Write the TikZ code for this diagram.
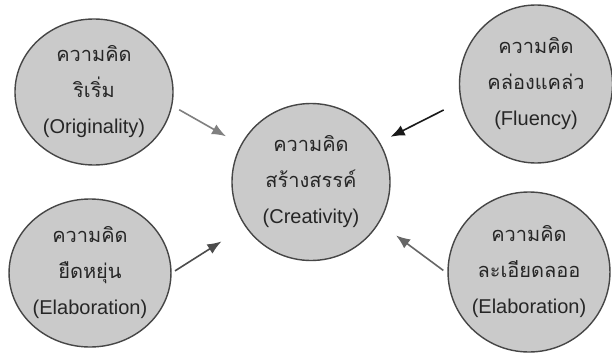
\documentclass[tikz,border=0pt]{standalone}
\usepackage{fontspec}
\setmainfont{Liberation Sans}
\newfontfamily\thaifont[Script=Thai]{Loma}
\usetikzlibrary{shapes.geometric,arrows.meta}

\definecolor{ideafill}{RGB}{202,202,202}
\definecolor{ideaedge}{RGB}{70,70,70}
\definecolor{ideatext}{RGB}{38,38,38}

\tikzset{
  idea/.style={ellipse, draw=ideaedge, fill=ideafill, line width=1.4pt,
    inner sep=0pt, align=center, text=ideatext,
    font=\fontsize{20}{36}\selectfont},
  pointer/.style={-{Latex[length=14pt,width=11pt]}, line width=1.6pt}
}

\begin{document}
\begin{tikzpicture}[x=1pt,y=-1pt]
  \useasboundingbox[fill=white] (0,0) rectangle (612,353);

  % Wokol: cztery rodzaje myslenia
  \node[idea, minimum width=158pt, minimum height=146pt] (orig) at (94,92)
    {{\thaifont ความคิด}\\{\thaifont ริเริ่ม}\\(Originality)};
  \node[idea, minimum width=153pt, minimum height=158pt] (flu) at (536,84)
    {{\thaifont ความคิด}\\{\thaifont คล่องแคล่ว}\\(Fluency)};
  \node[idea, minimum width=156pt, minimum height=148pt] (flex) at (90,273)
    {{\thaifont ความคิด}\\{\thaifont ยืดหยุ่น}\\(Elaboration)};
  \node[idea, minimum width=155pt, minimum height=160pt] (elab) at (529,272)
    {{\thaifont ความคิด}\\{\thaifont ละเอียดลออ}\\(Elaboration)};

  % Srodek
  \node[idea, minimum width=158pt, minimum height=157pt] (crea) at (311,182)
    {{\thaifont ความคิด}\\{\thaifont สร้างสรรค์}\\(Creativity)};

  % Strzalki do srodka
  \draw[pointer, draw=black!50, shorten <=8pt, shorten >=17pt] (orig.-10) -- (crea.152);
  \draw[pointer, draw=black!90, shorten <=19pt, shorten >=12pt] (flu.193) -- (crea.30);
  \draw[pointer, draw=black!70, shorten <=4pt, shorten >=28pt] (flex.0) -- (crea.214);
  \draw[pointer, draw=black!60, shorten <=5pt, shorten >=21pt] (elab.181) -- (crea.-31);
\end{tikzpicture}
\end{document}
